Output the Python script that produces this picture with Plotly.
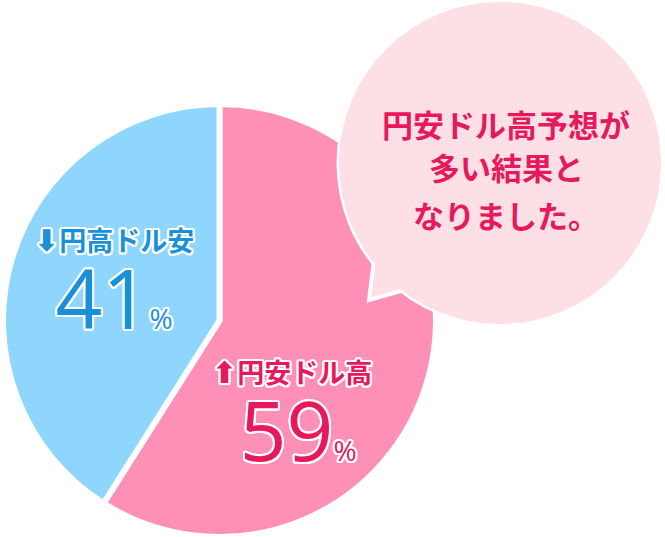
import plotly.graph_objects as go

# ---- data ----
labels = ["円安ドル高", "円高ドル安"]
values = [59, 41]
pct_labels = ["59", "41"]
colors = ["#fe90b7", "#8ed6fe"]
text_colors = ["#e8185d", "#1a90d8"]
arrows = ["⬆", "⬇"]
bubble_lines = ["円安ドル高予想が", "多い結果と", "なりました。"]

W, H = 665, 537


def px(x):
    return x / W


def py(y):
    return 1 - y / H


fig = go.Figure(
    go.Pie(
        labels=labels,
        values=values,
        sort=False,
        direction="clockwise",
        rotation=0,
        marker=dict(colors=colors, line=dict(color="white", width=6)),
        textinfo="none",
        hoverinfo="skip",
        showlegend=False,
        domain=dict(x=[px(3), px(436)], y=[0, 433 / H]),
    )
)

bubble_fill = "#fde0e6"
circle = dict(type="circle", xref="paper", yref="paper",
              x0=px(339), x1=px(661), y0=py(324), y1=py(2), layer="above")
tail_path = (f"M {px(374.5)} {py(256)} L {px(369)} {py(300)} "
             f"L {px(410)} {py(288.5)} Z")
shapes = [
    dict(circle, fillcolor=bubble_fill, line=dict(color="white", width=5)),
    dict(type="path", xref="paper", yref="paper", path=tail_path, layer="above",
         fillcolor=bubble_fill, line=dict(color="white", width=4)),
    dict(circle, fillcolor=bubble_fill, line=dict(width=0)),
]

outline = ", ".join(f"{a}px {b}px 0 #fff" for a, b in
                    [(2, 0), (-2, 0), (0, 2), (0, -2), (1.5, 1.5), (-1.5, -1.5),
                     (1.5, -1.5), (-1.5, 1.5), (1, 2), (2, 1), (-1, 2), (-2, 1),
                     (1, -2), (2, -1), (-1, -2), (-2, -1)])

jp = "Noto Sans CJK JP, DejaVu Sans"
annotations = []
# one label block per slice: (center x, center y, leading pad px for number line)
pos = [(292, 418, 54), (114, 286, 0)]
for i in range(len(values)):
    cx, cy, pad = pos[i]
    pad_span = f"<span style='font-size:{pad}px'>\u00a0</span>" if pad else ""
    text = (f"<span style='font-size:30px;font-family:DejaVu Sans'>{arrows[i]}</span>"
            f"<span style='font-size:27px'>{labels[i]}</span><br><br>"
            f"{pad_span}<span style='font-size:82px;font-family:Open Sans;font-weight:400'>"
            f"{pct_labels[i]}</span>"
            f"<span style='font-size:28px;font-family:Open Sans;font-weight:400'>%</span>")
    annotations.append(dict(
        xref="paper", yref="paper", x=px(cx), y=py(cy), xanchor="center", yanchor="middle",
        align="center", text=text, showarrow=False,
        font=dict(family=jp, size=30, color=text_colors[i], weight=700, shadow=outline)))

bubble_y = [124, 166, 214]
for line, yy in zip(bubble_lines, bubble_y):
    annotations.append(dict(
        xref="paper", yref="paper", x=px(506), y=py(yy), xanchor="center", yanchor="middle",
        text=line, showarrow=False,
        font=dict(family=jp, size=31, color="#e8185d", weight=700)))

fig.update_layout(
    width=W, height=H,
    margin=dict(l=0, r=0, t=0, b=0),
    paper_bgcolor="white", plot_bgcolor="white",
    shapes=shapes, annotations=annotations,
)

fig.write_html(
    "out.html",
    config={"displayModeBar": False},
    post_script="document.body.style.margin='0';document.body.style.padding='0';"
                "document.body.style.overflow='hidden';",
)
